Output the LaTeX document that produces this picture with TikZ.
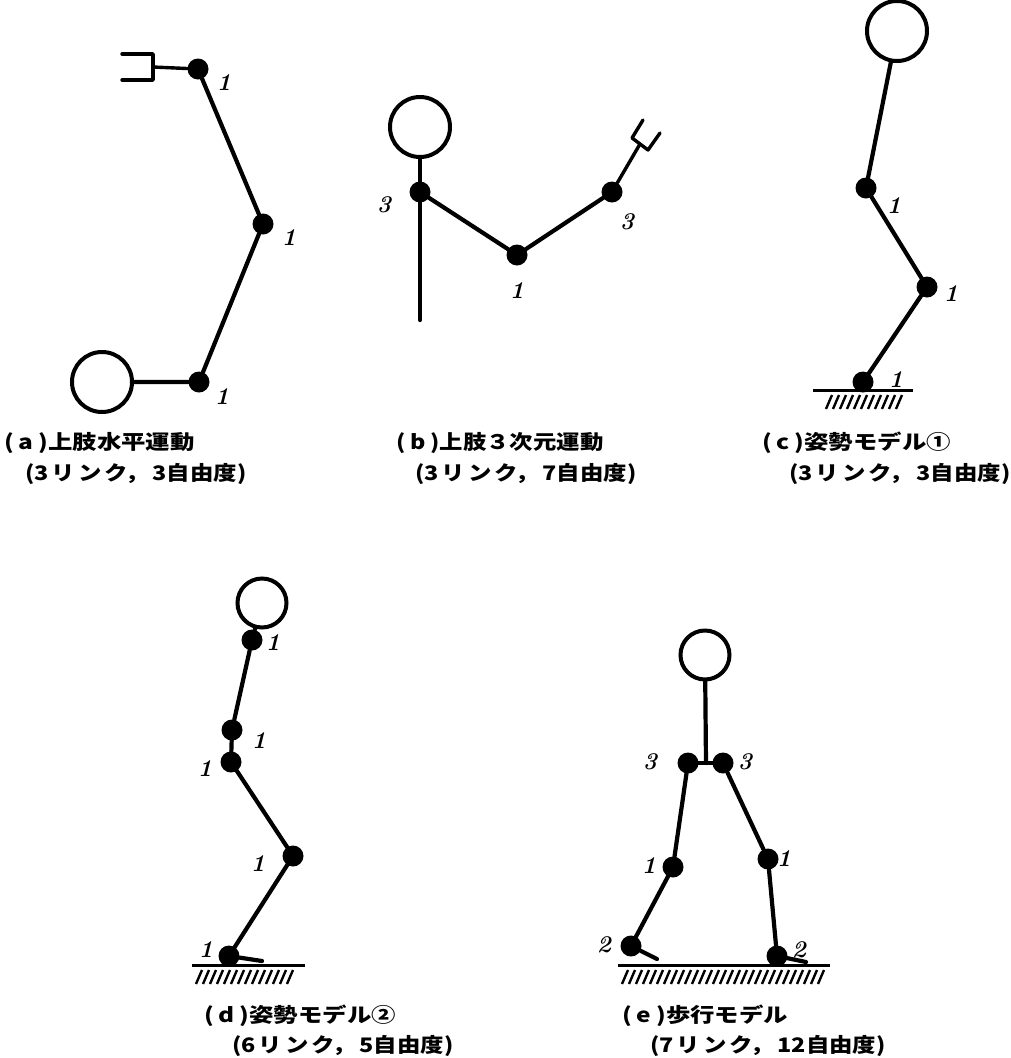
\documentclass[tikz,border=0pt]{standalone}
\usepackage{fontspec}
\usepackage{graphicx}
\newfontfamily\jp{Noto Sans CJK JP}
% wide caption text: Japanese set slightly stretched horizontally
\newcommand{\captxt}[1]{\scalebox{1.17}[1]{#1}}
\newcommand{\captitle}[1]{\scalebox{1.22}[1]{#1}}
\newcommand{\pre}[1]{(\hspace{4pt}#1\hspace{4pt})}
\newcommand{\links}[2]{(#1\kern2.5pt リ\kern2.5pt ン\kern2.5pt ク，\kern3pt #2自由度)}
\begin{document}
\begin{tikzpicture}[x=1pt,y=-1pt,
  link/.style={line width=4.2pt,line cap=round,line join=round},
  thinlink/.style={line width=3.4pt,line cap=round,line join=round},
  jnt/.style={circle,fill=black,inner sep=0pt,minimum size=21pt},
  headbig/.style={circle,draw,line width=4pt,inner sep=0pt,minimum size=60pt},
  headsmall/.style={circle,draw,line width=4pt,inner sep=0pt,minimum size=49pt},
  num/.style={font=\fontsize{24}{24}\selectfont\bfseries\itshape,inner sep=0pt},
  captext/.style={font=\jp\bfseries\fontsize{20}{20}\selectfont,anchor=base west,inner sep=0pt},
  ground/.style={line width=3pt},
  hatch/.style={line width=2.4pt}]
\useasboundingbox (0,0) rectangle (1011,1058);

% ---------- (a) horizontal arm movement ----------
\node[headbig] (ah) at (102,382) {};
\node[jnt] (a0) at (199,382) {};
\node[jnt] (a1) at (263,224) {};
\node[jnt] (a2) at (198,69) {};
\coordinate (ag) at (153,67);
\draw[link] (ah) -- (a0) -- (a1) -- (a2);
\draw[thinlink] (a2) -- (ag);
\draw[thinlink] (122,54) -- (153,54) -- (153,80) -- (122,80);
\node[num] (an0) at (222,397) {1};
\node[num] (an1) at (289,238) {1};
\node[num] (an2) at (224,83) {1};
\node[captext] (acap1) at (4,449) {\captitle{\pre{a}上肢水平運動}};
\node[captext] (acap2) at (25,480) {\captxt{\links{3}{3}}};

% ---------- (b) 3D arm movement ----------
\node[headbig] (bh) at (420,127) {};
\node[jnt] (b0) at (420,192) {};
\node[jnt] (b1) at (517,255) {};
\node[jnt] (b2) at (612,192) {};
\coordinate (bt) at (420,320);
\coordinate (bg) at (640,144);
\draw[link] (bh) -- (b0) -- (bt);
\draw[link] (b0) -- (b1) -- (b2);
\draw[thinlink] (b2) -- (bg);
\draw[thinlink] (643,120) -- (632,138) -- (648,150) -- (660,133);
\node[num] (bn0) at (384,205) {3};
\node[num] (bn1) at (517,291) {1};
\node[num] (bn2) at (627,222) {3};
\node[captext] (bcap1) at (396,449) {\captxt{\pre{b}上肢３次元運動}};
\node[captext] (bcap2) at (415,480) {\captxt{\links{3}{7}}};

% ---------- (c) posture model 1 ----------
\node[headbig] (ch) at (897,31) {};
\node[jnt] (c0) at (866,188) {};
\node[jnt] (c1) at (927,287) {};
\node[jnt] (c2) at (863,382) {};
\draw[link] (ch) -- (c0) -- (c1) -- (c2);
\draw[ground] (813,390) -- (913,390);
\foreach \x in {826,833,...,896} \draw[hatch] (\x,409) -- ++(6,-14);
\node[num] (cn0) at (894,206) {1};
\node[num] (cn1) at (951,294) {1};
\node[num] (cn2) at (896,380) {1};
\node[captext] (ccap1) at (762,449) {\captitle{\pre{c}姿勢モデル①}};
\node[captext] (ccap2) at (789,480) {\captxt{\links{3}{3}}};

% ---------- (d) posture model 2 ----------
\node[headsmall] (dh) at (262,603) {};
\node[jnt] (d0) at (252,640) {};
\node[jnt] (d1) at (232,730) {};
\node[jnt] (d2) at (231,762) {};
\node[jnt] (d3) at (293,856) {};
\node[jnt] (d4) at (229,956) {};
\coordinate (dtoe) at (262,961);
\draw[link] (dh) -- (d0) -- (d1) -- (d2) -- (d3) -- (d4);
\draw[link] (d4) -- (dtoe);
\draw[ground] (192,965) -- (305,965);
\foreach \x in {196,203,...,292} \draw[hatch] (\x,984) -- ++(6,-14);
\node[num] (dn0) at (273,643) {1};
\node[num] (dn1) at (259,741) {1};
\node[num] (dn2) at (205,769) {1};
\node[num] (dn3) at (258,864) {1};
\node[num] (dn4) at (206,950) {1};
\node[captext] (dcap1) at (204,1022) {\captitle{\pre{d}姿勢モデル②}};
\node[captext] (dcap2) at (232,1052) {\captxt{\links{6}{5}}};

% ---------- (e) walking model ----------
\node[headsmall] (eh) at (705,655) {};
\node[jnt] (el0) at (688,763) {};
\node[jnt] (er0) at (723,763) {};
\coordinate (ep) at (706,763);
\node[jnt] (el1) at (673,867) {};
\node[jnt] (er1) at (768,859) {};
\node[jnt] (el2) at (631,946) {};
\node[jnt] (er2) at (777,956) {};
\coordinate (eltoe) at (657,959);
\coordinate (ertoe) at (806,962);
\draw[link] (eh) -- (ep);
\draw[link] (el0) -- (er0);
\draw[link] (el0) -- (el1) -- (el2) -- (eltoe);
\draw[link] (er0) -- (er1) -- (er2) -- (ertoe);
\draw[ground] (618,965) -- (830,965);
\foreach \x in {622,629,...,818} \draw[hatch] (\x,984) -- ++(6,-14);
\node[num] (eln0) at (650,762) {3};
\node[num] (ern0) at (745,762) {3};
\node[num] (eln1) at (649,866) {1};
\node[num] (ern1) at (784,859) {1};
\node[num] (eln2) at (604,945) {2};
\node[num] (ern2) at (799,950) {2};
\node[captext] (ecap1) at (622,1022) {\captitle{\pre{e}歩行モデル}};
\node[captext] (ecap2) at (650,1052) {\captxt{\links{7}{12}}};
\end{tikzpicture}
\end{document}
